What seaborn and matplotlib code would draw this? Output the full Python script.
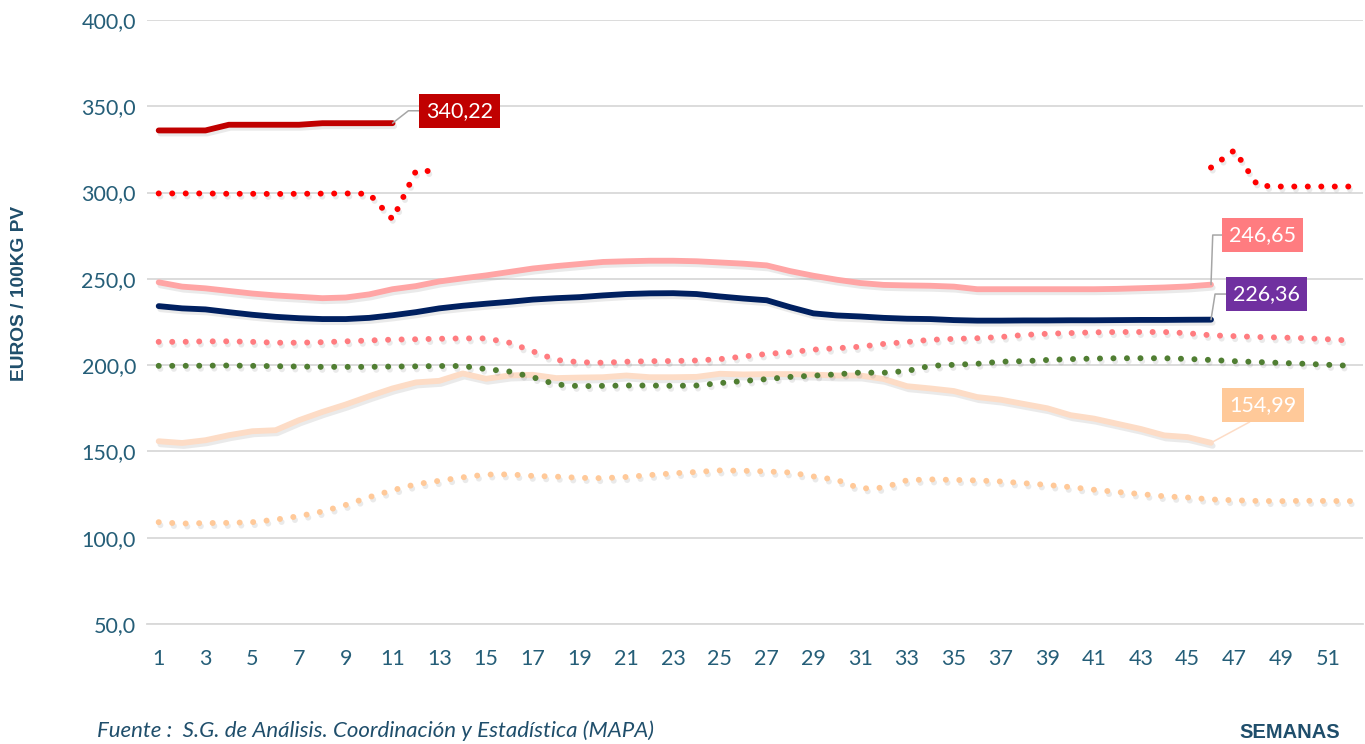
import numpy as np
import pandas as pd
import seaborn as sns
import matplotlib
matplotlib.use("Agg")
import matplotlib.pyplot as plt
import matplotlib.patheffects as pe
from matplotlib.ticker import FuncFormatter, MultipleLocator

weeks = np.arange(1, 53)

# precios medios semanales (EUR / 100 kg PV)
rojo_solido = [336.0, 336.0, 336.0, 339.3, 339.3, 339.3, 339.3, 340.2, 340.2, 340.2, 340.22]

rojo_punteado = ([299.5, 299.5, 299.5, 299.3, 299.3, 299.2, 299.3, 299.4, 299.5, 299.3,
                  284.5, 312.5, 312.5] + [np.nan] * 32 +
                 [314.5, 324.5, 304.0, 303.5, 303.5, 303.5, 303.5])

rosa_solido = [248.0, 245.5, 244.5, 243.0, 241.5, 240.4, 239.6, 238.8, 239.2, 241.0,
               244.0, 245.8, 248.5, 250.3, 252.0, 254.0, 256.0, 257.4, 258.6, 259.8,
               260.2, 260.5, 260.5, 260.2, 259.5, 258.8, 257.8, 254.5, 251.8, 249.5,
               247.6, 246.5, 246.2, 246.0, 245.5, 244.0, 244.0, 244.0, 244.0, 244.0,
               244.0, 244.2, 244.6, 245.0, 245.6, 246.65]

azul_solido = [234.2, 232.9, 232.3, 230.7, 229.2, 228.0, 227.2, 226.7, 226.7, 227.4,
               228.9, 230.7, 232.9, 234.4, 235.6, 236.7, 238.0, 238.8, 239.4, 240.4,
               241.2, 241.6, 241.7, 241.2, 239.8, 238.6, 237.6, 233.6, 230.0, 228.8,
               228.2, 227.4, 226.9, 226.7, 226.1, 225.8, 225.8, 225.9, 225.9, 226.0,
               226.0, 226.1, 226.2, 226.2, 226.3, 226.36]

rosa_punteado = [213.5, 213.5, 213.8, 213.8, 213.5, 213.0, 213.0, 213.3, 213.8, 214.3,
                 214.8, 215.0, 215.3, 215.5, 215.5, 213.0, 208.0, 203.0, 201.7, 201.4,
                 202.0, 202.3, 202.4, 202.7, 203.5, 205.0, 206.5, 207.5, 209.0, 209.8,
                 210.7, 212.3, 213.4, 214.7, 215.2, 215.6, 216.3, 217.5, 218.2, 218.6,
                 219.0, 219.2, 219.2, 219.2, 218.5, 217.3, 216.8, 216.3, 216.0, 215.6,
                 215.0, 214.2]

verde_punteado = [199.6, 199.6, 199.7, 199.8, 199.6, 199.4, 199.2, 199.0, 199.0, 199.0,
                  199.2, 199.3, 199.5, 199.5, 197.7, 196.3, 193.0, 188.8, 187.8, 188.0,
                  188.2, 188.2, 188.0, 188.2, 189.6, 190.8, 191.9, 193.2, 193.9, 194.7,
                  195.7, 195.6, 196.6, 199.6, 200.2, 200.8, 202.0, 202.3, 203.0, 203.5,
                  203.8, 204.0, 204.0, 204.0, 203.6, 203.0, 202.3, 201.8, 201.3, 200.8,
                  200.2, 199.6]

melocoton_solido = [155.9, 154.9, 156.5, 159.4, 161.7, 162.3, 168.1, 172.9, 177.2, 182.0,
                    186.5, 190.0, 190.9, 195.2, 192.1, 194.0, 194.4, 192.5, 192.8, 193.0,
                    194.0, 193.0, 193.0, 193.2, 195.0, 194.6, 194.8, 194.8, 194.5, 194.0,
                    194.0, 192.0, 187.8, 186.5, 185.0, 181.5, 180.0, 177.5, 175.0, 171.0,
                    169.0, 166.0, 163.0, 159.3, 158.3, 154.99]

melocoton_punteado = [109.0, 108.2, 108.5, 108.6, 109.0, 110.5, 112.5, 115.2, 119.0, 123.5,
                      127.5, 131.0, 133.0, 135.0, 136.6, 136.7, 135.8, 135.4, 134.7, 134.5,
                      135.2, 136.3, 137.3, 138.1, 139.0, 138.8, 138.4, 137.8, 135.5, 133.5,
                      128.5, 129.0, 133.3, 133.8, 133.5, 133.2, 132.6, 131.6, 130.6, 129.3,
                      127.8, 126.5, 125.3, 124.0, 123.3, 122.2, 121.7, 121.3, 121.2, 121.4,
                      121.3, 121.2]

DOT = (0, (0.01, 2.25))
series = [
    (melocoton_solido, "#FDDCC6", "-", 4.2),
    (melocoton_punteado, "#FFC999", DOT, 4.3),
    (rosa_solido, "#FFA5A5", "-", 4.2),
    (azul_solido, "#002060", "-", 4.2),
    (rosa_punteado, "#FF7C80", DOT, 4.3),
    (verde_punteado, "#507E32", DOT, 4.3),
    (rojo_solido, "#C00000", "-", 4.2),
    (rojo_punteado, "#FF0000", DOT, 4.3),
]

sns.set_style("white")
plt.rcParams["font.family"] = ["Lato", "DejaVu Sans"]

fig = plt.figure(figsize=(13.65, 7.44), dpi=100)
ax = fig.add_axes([147 / 1365, 120 / 744, 1216 / 1365, 604 / 744])

shadow = [pe.SimpleLineShadow(offset=(1.2, -2.2), shadow_color="#808080", alpha=0.16),
          pe.Normal()]

for vals, color, ls, lw in series:
    df = pd.DataFrame({"semana": weeks[:len(vals)], "precio": vals})
    # cortar en los huecos para no unir tramos
    grp = df["precio"].isna().cumsum()
    for _, part in df.dropna().groupby(grp[df["precio"].notna()]):
        sns.lineplot(data=part, x="semana", y="precio", ax=ax, color=color,
                     linewidth=lw, linestyle=ls, dash_capstyle="round",
                     solid_capstyle="round", solid_joinstyle="round",
                     path_effects=shadow, legend=False)

ax.set_xlim(0.5, 52.5)
ax.set_ylim(50, 400)
ax.yaxis.set_major_locator(MultipleLocator(50))
ax.yaxis.set_major_formatter(FuncFormatter(lambda v, p: f"{v:.1f}".replace(".", ",")))
ax.set_xticks(np.arange(1, 53, 2))
ax.set_xticks(np.arange(0.5, 53, 1), minor=True)
ax.grid(axis="y", color="#D9D9D9", linewidth=1.3)
ax.set_axisbelow(True)
for s in ["top", "right", "left"]:
    ax.spines[s].set_visible(False)
ax.spines["bottom"].set_color("#D9D9D9")
ax.spines["bottom"].set_linewidth(1.3)
tick_color = "#255E78"
ax.tick_params(axis="y", length=0, pad=8, labelsize=15.5, labelcolor=tick_color)
ax.tick_params(axis="x", which="major", length=0, pad=18, labelsize=15.5, labelcolor=tick_color)
ax.tick_params(axis="x", which="minor", length=4.5, width=1.2, color="#D9D9D9", direction="out")
ax.set_xlabel("")
ax.set_ylabel("")

def fmt(v):
    return f"{v:.2f}".replace(".", ",")

etiquetas = [
    (rojo_solido, 11, "#C00000", (12.43, 347.4), "angle,angleA=0,angleB=38,rad=0", "#A6A6A6", (0.5, 0.5)),
    (rosa_solido, 46, "#FF7C80", (46.78, 275.4), "angle,angleA=0,angleB=88,rad=0", "#A6A6A6", (0.5, 0.5)),
    (azul_solido, 46, "#7030A0", (46.95, 241.2), "angle,angleA=0,angleB=81,rad=0", "#A6A6A6", (0.5, 0.5)),
    (melocoton_solido, 46, "#FFC999", (46.78, 177.0), "arc3,rad=0", "#FDDCC6", (0.5, 0.0)),
]
for vals, wk, bg, pos, conn, lc, rel in etiquetas:
    ax.annotate(fmt(vals[-1]), xy=(wk, vals[-1]), xytext=pos, ha="left", va="center",
                fontsize=15.5, color="white",
                bbox=dict(boxstyle="square,pad=0.33", fc=bg, ec="none"),
                arrowprops=dict(arrowstyle="-", color=lc, lw=1.1, connectionstyle=conn,
                                shrinkA=0, shrinkB=0, relpos=rel))

lab_color = "#1F4E6B"
fig.text(20 / 1365, 1 - 293 / 744, "EUROS / 100KG PV", rotation=90, ha="center", va="center",
         fontsize=13.8, fontweight="bold", color=lab_color, family=["Liberation Sans", "DejaVu Sans"])
fig.text(1340 / 1365, 1 - 733 / 744, "SEMANAS", ha="right", va="center",
         fontsize=14.5, fontweight="bold", color=lab_color, family=["Liberation Sans", "DejaVu Sans"])
fig.text(97 / 1365, 1 - 737 / 744, "Fuente :  S.G. de Análisis. Coordinación y Estadística (MAPA)",
         ha="left", va="baseline", fontsize=16, style="italic", color=lab_color)

fig.savefig("out.png", dpi=100)
